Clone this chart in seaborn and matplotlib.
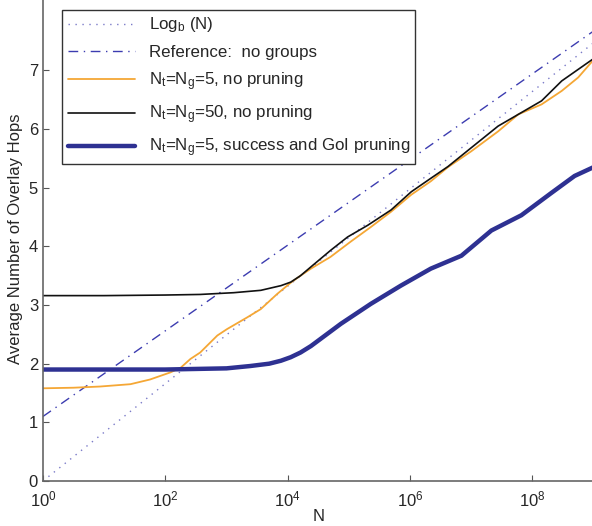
import numpy as np
import pandas as pd
import seaborn as sns
import matplotlib
matplotlib.use("Agg")
import matplotlib.pyplot as plt

# decades of N used for the straight reference lines
ref_exp = [0, 1, 2, 3, 4, 5, 6, 7, 8, 9]
log_b = [0.0, 0.83, 1.66, 2.49, 3.32, 4.15, 4.98, 5.81, 6.64, 7.47]
no_groups = [1.10, 1.83, 2.56, 3.29, 4.02, 4.75, 5.48, 6.21, 6.94, 7.67]

# simulated curves (log10 N -> hops)
exp5 = [0, 0.5, 0.93, 1.43, 1.75, 2.08, 2.25, 2.41, 2.57, 2.85, 3.01, 3.34,
        3.56, 3.83, 4.05, 4.21, 4.38, 4.70, 5.03, 5.36, 5.69, 6.02, 6.34,
        6.62, 7.0, 7.44, 7.77, 8.15, 8.48, 8.75, 9.0]
nopr5 = [1.58, 1.59, 1.61, 1.65, 1.73, 1.85, 1.93, 2.08, 2.19, 2.48, 2.59,
         2.79, 2.93, 3.19, 3.38, 3.50, 3.62, 3.82, 4.08, 4.33, 4.59, 4.88,
         5.11, 5.35, 5.62, 5.96, 6.25, 6.42, 6.65, 6.88, 7.18]

exp50 = [0, 1, 2, 2.57, 3.12, 3.56, 3.89, 4.05, 4.21, 4.38, 4.70, 4.98, 5.31,
         5.69, 6.02, 6.34, 6.62, 7.0, 7.44, 7.77, 8.15, 8.48, 9.0]
nopr50 = [3.16, 3.16, 3.17, 3.18, 3.21, 3.25, 3.33, 3.39, 3.50, 3.65, 3.93,
          4.16, 4.36, 4.62, 4.93, 5.16, 5.36, 5.68, 6.05, 6.25, 6.48, 6.82,
          7.20]

expg = [0, 1, 2, 2.5, 3.0, 3.39, 3.7, 3.89, 4.05, 4.21, 4.38, 4.87, 5.36,
        5.85, 6.34, 6.84, 7.33, 7.82, 8.31, 8.69, 9.0]
goi5 = [1.90, 1.90, 1.90, 1.91, 1.92, 1.96, 2.00, 2.05, 2.11, 2.19, 2.30,
        2.68, 3.02, 3.33, 3.62, 3.84, 4.27, 4.53, 4.91, 5.20, 5.35]

sns.set_style("white")
plt.rcParams['font.family'] = ['Liberation Sans', 'DejaVu Sans']
plt.rcParams['mathtext.default'] = 'regular'

fig = plt.figure(figsize=(5.92, 5.26), dpi=100)
ax = fig.add_axes([0.0726, 0.0856, 0.93, 0.92])

sns.lineplot(x=10.0 ** np.array(ref_exp), y=log_b, ax=ax, color='#7a7ac8',
             linestyle=(0, (1, 4)), linewidth=1.0, label='Log$_b$ (N)')
sns.lineplot(x=10.0 ** np.array(ref_exp), y=no_groups, ax=ax, color='#3c3cb0',
             linestyle=(0, (7, 4, 1, 4)), linewidth=1.0, label='Reference:  no groups')
sns.lineplot(x=10.0 ** np.array(exp5), y=nopr5, ax=ax, color='#f5a735',
             linewidth=1.3, label='N$_t$=N$_g$=5, no pruning')
sns.lineplot(x=10.0 ** np.array(exp50), y=nopr50, ax=ax, color='#111111',
             linewidth=1.2, label='N$_t$=N$_g$=50, no pruning')
sns.lineplot(x=10.0 ** np.array(expg), y=goi5, ax=ax, color='#2e3192',
             linewidth=3.2, label='N$_t$=N$_g$=5, success and GoI pruning',
             solid_joinstyle='round')

ax.set_xscale('log')
ax.set_xlim(1, 1e9)
ax.set_ylim(0, 8.25)
ax.set_xticks([1, 1e2, 1e4, 1e6, 1e8])
ax.set_xticklabels(['10$^0$', '10$^2$', '10$^4$', '10$^6$', '10$^8$'])
ax.xaxis.set_minor_locator(matplotlib.ticker.NullLocator())
ax.set_yticks(range(0, 8))
ax.tick_params(direction='in', length=4, color='#555555', labelsize=12,
               bottom=True, left=True)
ax.tick_params(axis='x', pad=6)
for s in ['top', 'right']:
    ax.spines[s].set_visible(False)
for s in ['left', 'bottom']:
    ax.spines[s].set_color('#666666')
    ax.spines[s].set_linewidth(1.2)

ax.set_xlabel('N', fontsize=12, labelpad=0)
ax.set_ylabel('Average Number of Overlay Hops', fontsize=12, labelpad=4)

leg = ax.legend(loc='upper left', bbox_to_anchor=(0.02, 0.99), fontsize=12.2,
                handlelength=4.0, frameon=True, fancybox=False,
                edgecolor='#333333', framealpha=1, borderpad=0.3,
                labelspacing=0.62)
leg.get_frame().set_linewidth(1.0)

fig.savefig('out.png', dpi=100)
